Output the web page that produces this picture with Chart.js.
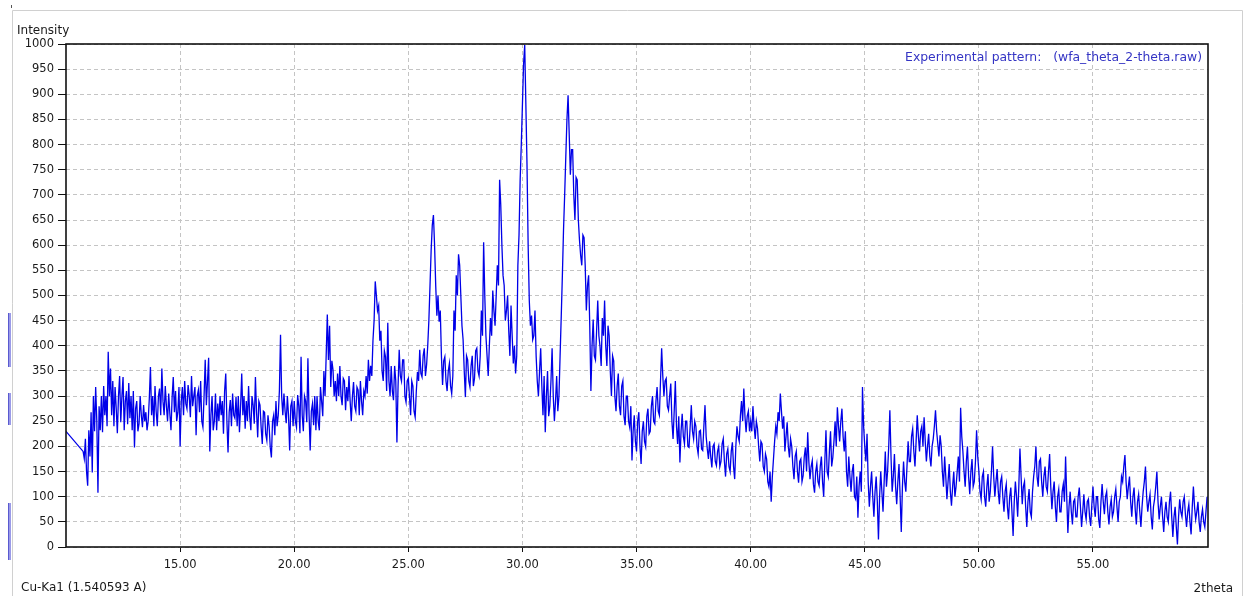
<!DOCTYPE html>
<html>
<head>
<meta charset="utf-8">
<title>XRD pattern</title>
<script src="https://cdn.jsdelivr.net/npm/chart.js@4.4.1/dist/chart.umd.min.js"></script>
<style>
  html, body { margin: 0; padding: 0; background: #ffffff; }
  #wrap { width: 1247px; height: 596px; position: relative; }
</style>
</head>
<body>
<div id="wrap"><canvas id="xrd" width="1247" height="596"></canvas></div>
<script>
// Scan sampling (degrees 2theta)
const scanStart = 10.0;
const scanStep = 0.05;

// Measured intensity, one row per degree (x.00 ... x.95); null = no reading
const intensity = [
  230, null, null, null, null, null, null, null, null, null, null, null, null, null, null, 190, 176, 215, 150, 122, // 10
  232, 180, 268, 148, 300, 230, 318, 250, 108, 280, 232, 300, 228, 320, 262, 300, 240, 388, 300, 355, // 11
  262, 330, 240, 318, 276, 226, 300, 340, 248, 300, 338, 232, 290, 310, 244, 326, 256, 300, 232, 310, // 12
  198, 275, 290, 230, 245, 300, 262, 238, 282, 250, 268, 232, 250, 295, 358, 262, 300, 240, 320, 270, // 13
  240, 300, 315, 262, 355, 290, 262, 320, 280, 250, 305, 265, 232, 298, 338, 268, 310, 250, 268, 318, // 14
  200, 290, 318, 262, 330, 285, 275, 322, 300, 258, 340, 280, 300, 318, 222, 300, 312, 268, 330, 250, // 15
  238, 300, 372, 282, 330, 376, 190, 262, 300, 232, 250, 305, 232, 285, 250, 300, 262, 290, 225, 310, // 16
  345, 250, 188, 268, 292, 240, 305, 262, 256, 298, 240, 300, 228, 280, 345, 262, 300, 235, 290, 250, // 17
  320, 260, 232, 300, 282, 245, 338, 268, 218, 290, 282, 238, 205, 270, 268, 225, 212, 262, 240, 198, // 18
  178, 250, 262, 222, 290, 240, 262, 310, 422, 300, 262, 305, 270, 246, 300, 262, 192, 280, 290, 240, // 19
  290, 250, 238, 302, 280, 226, 378, 262, 230, 300, 290, 248, 375, 265, 192, 270, 285, 242, 300, 232, // 20
  300, 250, 232, 318, 290, 260, 350, 300, 380, 462, 372, 440, 318, 370, 352, 300, 330, 290, 345, 300, // 21
  360, 300, 282, 335, 330, 272, 318, 290, 340, 290, 250, 300, 328, 280, 270, 318, 312, 262, 330, 290, // 22
  262, 310, 300, 340, 305, 372, 330, 360, 340, 410, 450, 528, 500, 470, 480, 410, 430, 350, 330, 390, // 23
  378, 310, 446, 330, 300, 360, 310, 292, 360, 330, 208, 320, 392, 340, 330, 372, 372, 300, 288, 330, // 24
  335, 300, 262, 330, 320, 270, 258, 310, 348, 330, 392, 345, 338, 380, 395, 340, 362, 400, 450, 520, // 25
  590, 640, 660, 600, 520, 460, 500, 448, 470, 380, 322, 370, 378, 330, 310, 350, 365, 320, 305, 340, // 26
  470, 430, 540, 500, 582, 560, 500, 440, 412, 350, 298, 380, 372, 330, 318, 360, 380, 320, 335, 390, // 27
  395, 350, 340, 380, 470, 420, 606, 500, 420, 380, 340, 400, 455, 420, 510, 470, 440, 500, 560, 520, // 28
  730, 680, 600, 540, 520, 450, 470, 500, 430, 380, 480, 420, 365, 400, 345, 380, 560, 620, 730, 800, // 29
  880, 960, 998, 880, 760, 600, 490, 440, 460, 412, 420, 470, 380, 330, 300, 350, 395, 320, 262, 340, // 30
  228, 300, 350, 260, 280, 330, 395, 300, 250, 290, 340, 270, 300, 380, 458, 540, 630, 700, 776, 850, // 31
  898, 820, 740, 790, 790, 700, 650, 735, 730, 650, 610, 580, 560, 620, 615, 560, 470, 520, 540, 440, // 32
  310, 400, 452, 380, 372, 430, 490, 420, 398, 360, 455, 420, 490, 400, 360, 440, 420, 350, 300, 380, // 33
  370, 300, 270, 320, 345, 280, 262, 320, 330, 260, 242, 300, 300, 250, 238, 280, 172, 230, 262, 210, // 34
  190, 250, 268, 200, 165, 230, 250, 210, 200, 260, 275, 225, 230, 280, 300, 250, 245, 290, 318, 270, // 35
  262, 330, 395, 340, 300, 330, 335, 280, 272, 300, 325, 250, 215, 270, 330, 240, 205, 260, 168, 230, // 36
  265, 220, 205, 250, 250, 200, 198, 240, 282, 230, 215, 250, 240, 200, 185, 230, 232, 195, 192, 240, // 37
  282, 220, 195, 175, 210, 180, 158, 200, 205, 170, 162, 190, 200, 160, 170, 205, 215, 170, 140, 185, // 38
  195, 160, 150, 190, 208, 160, 135, 200, 240, 220, 210, 260, 290, 250, 315, 260, 228, 260, 270, 230, // 39
  250, 230, 280, 240, 215, 250, 236, 200, 170, 210, 205, 160, 150, 185, 175, 130, 120, 150, 90, 140,  // 40
  175, 210, 240, 225, 268, 250, 305, 270, 235, 260, 190, 220, 248, 200, 178, 215, 200, 160, 135, 180, // 41
  190, 150, 128, 170, 175, 130, 142, 180, 198, 150, 228, 170, 135, 160, 172, 125, 108, 150, 165, 130, // 42
  122, 160, 180, 130, 100, 170, 232, 150, 140, 190, 230, 160, 178, 210, 250, 200, 278, 240, 210, 250, // 43
  275, 220, 190, 230, 150, 120, 180, 140, 110, 150, 165, 100, 95, 140, 58, 120, 150, 110, 318, 240,   // 44
  200, 170, 225, 130, 80, 120, 150, 100, 60, 110, 140, 90, 15, 100, 150, 110, 70, 130, 190, 120,      // 45
  150, 200, 272, 180, 110, 140, 185, 120, 85, 130, 165, 100, 30, 120, 170, 130, 110, 160, 210, 170,   // 46
  170, 220, 235, 190, 160, 210, 262, 220, 190, 230, 240, 200, 258, 210, 170, 200, 225, 180, 160, 200, // 47
  215, 240, 272, 230, 205, 180, 222, 200, 150, 120, 180, 140, 95, 130, 165, 110, 82, 120, 150, 100,   // 48
  120, 150, 180, 130, 277, 220, 190, 150, 120, 170, 200, 140, 105, 150, 175, 120, 130, 170, 232, 180, // 49
  150, 110, 95, 140, 150, 100, 80, 120, 145, 90, 110, 150, 200, 140, 100, 130, 155, 110, 85, 130,     // 50
  140, 100, 70, 110, 125, 80, 55, 100, 118, 70, 22, 90, 130, 100, 60, 120, 196, 140, 85, 120,         // 51
  130, 80, 40, 90, 115, 70, 60, 110, 140, 160, 200, 140, 120, 170, 175, 130, 100, 140, 160, 120,      // 52
  110, 150, 185, 120, 75, 110, 130, 80, 50, 100, 115, 70, 70, 110, 125, 90, 180, 100, 28, 80,         // 53
  110, 70, 45, 90, 95, 60, 60, 100, 118, 80, 40, 70, 105, 70, 55, 90, 95, 60, 42, 85,                 // 54
  120, 80, 60, 100, 100, 55, 38, 90, 125, 90, 65, 100, 110, 70, 45, 80, 95, 60, 70, 100,              // 55
  115, 80, 50, 90, 100, 140, 130, 160, 183, 130, 95, 120, 140, 90, 60, 100, 118, 75, 45, 90,          // 56
  105, 70, 40, 80, 110, 130, 160, 100, 70, 90, 105, 60, 35, 80, 95, 120, 150, 90, 55, 80,             // 57
  100, 60, 30, 70, 90, 60, 50, 90, 110, 60, 20, 60, 80, 40, 5, 60, 95, 70, 60, 90,                    // 58
  100, 65, 40, 70, 85, 50, 25, 80, 120, 80, 55, 70, 90, 50, 30, 60, 75, 50, 40, 70,                   // 59
  100                                                                                                 // 60
];

// Axis ticks
const xTickValues = [15, 20, 25, 30, 35, 40, 45, 50, 55];
const yMin = 0;
const yMax = 1000;
const yStep = 50;
const xMin = 10.0;
const xMax = 60.04;

// Captions
const yCaption = 'Intensity';
const xCaption = '2theta';
const radiationCaption = 'Cu-Ka1 (1.540593 A)';
const patternCaption = 'Experimental pattern:   (wfa_theta_2-theta.raw)';

const points = intensity.map((v, i) => ({
  x: Math.round((scanStart + i * scanStep) * 100) / 100,
  y: v
}));

const FONT = 'DejaVu Sans';
Chart.defaults.font.family = FONT;
Chart.defaults.font.size = 11.5;
Chart.defaults.color = '#1a1a1a';

const decor = {
  id: 'decor',
  beforeDraw(chart) {
    const ctx = chart.ctx;
    ctx.save();
    ctx.fillStyle = '#ffffff';
    ctx.fillRect(0, 0, chart.width, chart.height);
    // window frame
    ctx.strokeStyle = '#d0d0d0';
    ctx.lineWidth = 1;
    ctx.beginPath();
    ctx.moveTo(12.5, 596); ctx.lineTo(12.5, 10.5); ctx.lineTo(1242.5, 10.5); ctx.lineTo(1242.5, 596);
    ctx.stroke();
    ctx.fillStyle = '#555';
    ctx.fillRect(11, 5, 1, 3);
    // side markers
    const marks = [[313, 367], [393, 425], [503, 560]];
    ctx.fillStyle = '#9a9ae8';
    marks.forEach(([a, b]) => ctx.fillRect(8, a, 3, b - a));
    ctx.fillStyle = '#5a5ad0';
    marks.forEach(([a, b]) => ctx.fillRect(8, a, 1, b - a));
    ctx.restore();
  },
  afterDatasetsDraw(chart) {
    const {ctx, chartArea: a} = chart;
    ctx.save();
    ctx.strokeStyle = '#111';
    ctx.lineWidth = 1.6;
    ctx.strokeRect(a.left, a.top, a.right - a.left, a.bottom - a.top);
    ctx.restore();
  },
  afterDraw(chart) {
    const {ctx, chartArea: a} = chart;
    ctx.save();
    ctx.font = '12px "' + FONT + '"';
    ctx.textBaseline = 'alphabetic';
    ctx.fillStyle = '#1a1a1a';
    ctx.textAlign = 'left';
    ctx.fillText(yCaption, 17, 34);
    ctx.fillText(radiationCaption, 21, 591);
    ctx.textAlign = 'right';
    ctx.fillText(xCaption, 1233, 592);
    ctx.font = '12.4px "' + FONT + '"';
    ctx.fillStyle = '#3434c4';
    ctx.fillText(patternCaption, a.right - 6, 61);
    ctx.restore();
  }
};

new Chart(document.getElementById('xrd'), {
  type: 'line',
  data: {
    datasets: [{
      data: points,
      borderColor: '#0000e8',
      borderWidth: 1.3,
      pointRadius: 0,
      tension: 0,
      spanGaps: true,
      fill: false
    }]
  },
  options: {
    responsive: false,
    devicePixelRatio: 1,
    animation: false,
    events: [],
    layout: { padding: { top: 44, right: 39, left: 0, bottom: 0 } },
    plugins: { legend: { display: false }, tooltip: { enabled: false }, title: { display: false } },
    scales: {
      x: {
        type: 'linear',
        min: xMin,
        max: xMax,
        afterBuildTicks(scale) { scale.ticks = xTickValues.map(v => ({ value: v })); },
        afterFit(scale) { scale.height = 49; },
        ticks: {
          padding: 6,
          maxRotation: 0,
          autoSkip: false,
          color: '#1a1a1a',
          callback: v => Number(v).toFixed(2)
        },
        grid: {
          color: '#c4c4c4',
          lineWidth: 1,
          tickLength: 5,
          tickColor: '#111',
          tickBorderDash: []
        },
        border: { display: false, dash: [4, 3] }
      },
      y: {
        type: 'linear',
        min: yMin,
        max: yMax,
        afterFit(scale) { scale.width = 66; },
        ticks: { stepSize: yStep, padding: 4, color: '#1a1a1a', autoSkip: false, callback: v => String(v) },
        grid: {
          color: '#c4c4c4',
          lineWidth: 1,
          tickLength: 8,
          tickColor: '#111',
          tickBorderDash: []
        },
        border: { display: false, dash: [4, 3] }
      }
    }
  },
  plugins: [decor]
});
</script>
</body>
</html>
